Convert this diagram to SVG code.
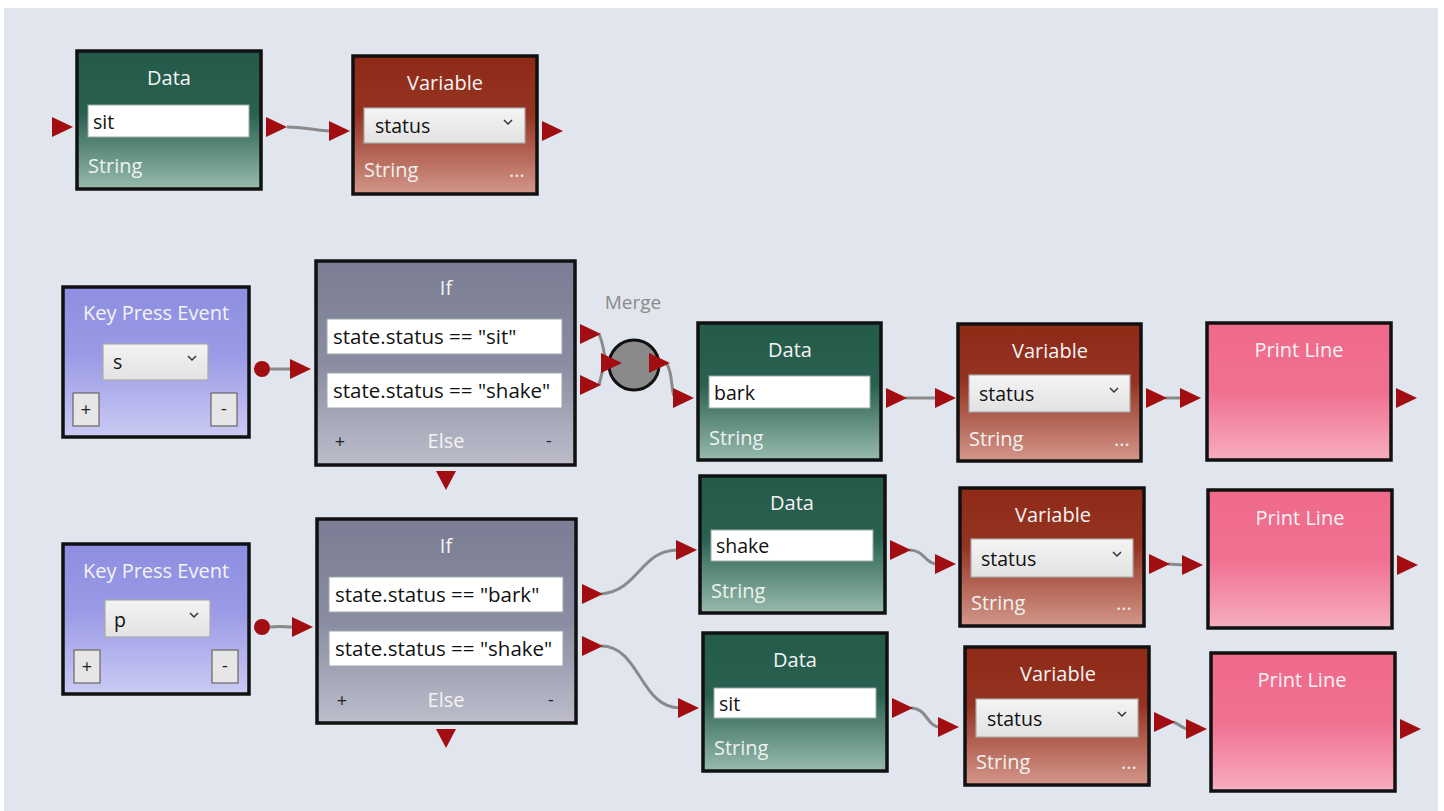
<svg xmlns="http://www.w3.org/2000/svg" width="1444" height="811" viewBox="0 0 1444 811">
<defs>
<linearGradient id="gData" x1="0" y1="0" x2="0" y2="1">
<stop offset="0" stop-color="#245a49"/><stop offset="0.45" stop-color="#2a6050"/><stop offset="1" stop-color="#97bbad"/>
</linearGradient>
<linearGradient id="gVar" x1="0" y1="0" x2="0" y2="1">
<stop offset="0" stop-color="#8e2a16"/><stop offset="0.42" stop-color="#953322"/><stop offset="1" stop-color="#d3978a"/>
</linearGradient>
<linearGradient id="gKey" x1="0" y1="0" x2="0" y2="1">
<stop offset="0" stop-color="#8e8ee2"/><stop offset="0.45" stop-color="#9a9ae6"/><stop offset="1" stop-color="#cbcbf4"/>
</linearGradient>
<linearGradient id="gIf" x1="0" y1="0" x2="0" y2="1">
<stop offset="0" stop-color="#7b7d94"/><stop offset="0.5" stop-color="#8a8ca1"/><stop offset="1" stop-color="#bdbdcb"/>
</linearGradient>
<linearGradient id="gPrint" x1="0" y1="0" x2="0" y2="1">
<stop offset="0" stop-color="#f06a8a"/><stop offset="0.5" stop-color="#f07090"/><stop offset="1" stop-color="#f7adbf"/>
</linearGradient>
<linearGradient id="gDrop" x1="0" y1="0" x2="0" y2="1">
<stop offset="0" stop-color="#f4f4f4"/><stop offset="1" stop-color="#e2e2e2"/>
</linearGradient>
<path id="arr" d="M0,-10 L21,0 L0,10 Z" fill="#a10d10"/>
<path id="arrD" d="M-10,0 L10,0 L0,19 Z" fill="#a10d10"/>
<path id="chev" d="M-4,-2 L0,2 L4,-2" fill="none" stroke="#333" stroke-width="1.5"/>
</defs>
<style>
.box{stroke:#111;stroke-width:3.5}
.t{font-family:"Open Sans","Noto Sans",sans-serif;font-size:20px;fill:#f4f4f4;text-anchor:middle}
.s{font-family:"Open Sans","Noto Sans",sans-serif;font-size:20px;fill:#eef2f0}
.f{font-family:"Open Sans","Noto Sans",sans-serif;font-size:19.5px;fill:#111}
.cond{font-family:"Open Sans","Noto Sans",sans-serif;font-size:20.5px;fill:#111}
.field{fill:#ffffff;stroke:#9aa;stroke-width:1}
.drop{fill:url(#gDrop);stroke:#aaa;stroke-width:1.2}
.btn{fill:#e6e6e6;stroke:#666;stroke-width:1.2}
.c{fill:none;stroke:#8a8a8a;stroke-width:3}
.m{font-family:"Open Sans","Noto Sans",sans-serif;font-size:19px;fill:#8a8a8a;text-anchor:middle}
.pm{font-family:"Open Sans","Noto Sans",sans-serif;font-size:18px;fill:#222;text-anchor:middle}
</style>
<rect x="0" y="0" width="1444" height="811" fill="#ffffff"/>
<rect x="4" y="8" width="1434" height="803" fill="#e1e5ee"/>

<g id="merge">
<text class="m" x="633" y="309">Merge</text>
<circle cx="634" cy="365" r="25" fill="#8a8a8a" stroke="#111" stroke-width="3"/>
</g>

<g id="connectors">
<path class="c" d="M287,127 C305,127 310,130 330,131"/>
<circle cx="262" cy="369" r="8" fill="#a10d10"/>
<path class="c" d="M270,369 L292,369"/>
<circle cx="262" cy="627" r="8" fill="#a10d10"/>
<path class="c" d="M270,627 C282,626 285,627 294,627"/>
<path class="c" d="M599,334 C604,345 604,355 606,363"/>
<path class="c" d="M599,385 C602,375 602,368 606,363"/>
<path class="c" d="M666,363 C674,372 670,395 676,398"/>
<path class="c" d="M905,398 L936,398"/>
<path class="c" d="M1165,398 L1182,398"/>
<path class="c" d="M601,594 C640,590 640,550 678,550"/>
<path class="c" d="M601,646 C640,646 640,708 680,708"/>
<path class="c" d="M909,550 C925,550 925,564 937,564"/>
<path class="c" d="M1168,564 L1184,565"/>
<path class="c" d="M911,708 C927,708 927,727 940,727"/>
<path class="c" d="M1173,722 C1180,724 1182,729 1188,729"/>
<use href="#arr" x="52" y="127"/>
<use href="#arr" x="266" y="127"/>
<use href="#arr" x="329" y="131"/>
<use href="#arr" x="542" y="131"/>
<use href="#arr" x="290" y="369"/>
<use href="#arr" x="292" y="627"/>
<use href="#arr" x="580" y="334"/>
<use href="#arr" x="580" y="385"/>
<use href="#arr" x="601" y="363"/>
<use href="#arr" x="649" y="363"/>
<use href="#arr" x="673" y="398"/>
<use href="#arr" x="886" y="398"/>
<use href="#arr" x="935" y="398"/>
<use href="#arr" x="1146" y="398"/>
<use href="#arr" x="1180" y="398"/>
<use href="#arr" x="1396" y="398"/>
<use href="#arrD" x="446" y="471"/>
<use href="#arrD" x="446" y="729"/>
<use href="#arr" x="582" y="594"/>
<use href="#arr" x="582" y="646"/>
<use href="#arr" x="676" y="550"/>
<use href="#arr" x="678" y="708"/>
<use href="#arr" x="890" y="550"/>
<use href="#arr" x="935" y="564"/>
<use href="#arr" x="1149" y="564"/>
<use href="#arr" x="1182" y="565"/>
<use href="#arr" x="1397" y="565"/>
<use href="#arr" x="892" y="708"/>
<use href="#arr" x="938" y="727"/>
<use href="#arr" x="1154" y="722"/>
<use href="#arr" x="1186" y="729"/>
<use href="#arr" x="1400" y="729"/>
</g>

<g id="data-sit-top">
<rect class="box" x="77" y="51" width="184" height="138" fill="url(#gData)"/>
<text class="t" x="169" y="85">Data</text>
<rect class="field" x="88" y="105" width="161" height="32"/>
<text class="f" x="93" y="129">sit</text>
<text class="s" x="88" y="173">String</text>
</g>

<g id="variable-top">
<rect class="box" x="353" y="56" width="184" height="138" fill="url(#gVar)"/>
<text class="t" x="445" y="90">Variable</text>
<rect class="drop" x="364" y="108" width="161" height="35"/>
<text class="f" x="375" y="133">status</text>
<use href="#chev" x="508" y="122"/>
<text class="s" x="364" y="177">String</text>
<text class="s" x="509" y="177" font-size="16">...</text>
</g>

<g id="keypress-s">
<rect class="box" x="63" y="287" width="186" height="150" fill="url(#gKey)"/>
<text class="t" x="156" y="320">Key Press Event</text>
<rect class="drop" x="103" y="344" width="105" height="36"/>
<text class="f" x="113" y="369">s</text>
<use href="#chev" x="192" y="358"/>
<rect class="btn" x="73" y="393" width="26" height="33"/>
<text class="pm" x="86" y="416">+</text>
<rect class="btn" x="211" y="393" width="26" height="33"/>
<text class="pm" x="224" y="415">-</text>
</g>

<g id="if-1">
<rect class="box" x="316" y="261" width="259" height="204" fill="url(#gIf)"/>
<text class="t" x="446" y="295">If</text>
<rect class="field" x="327" y="319" width="235" height="35"/>
<text class="cond" x="333" y="344">state.status == "sit"</text>
<rect class="field" x="327" y="373" width="235" height="35"/>
<text class="cond" x="333" y="398">state.status == "shake"</text>
<text class="pm" x="340" y="448">+</text>
<text class="t" x="446" y="448">Else</text>
<text class="pm" x="549" y="447">-</text>
</g>

<g id="data-bark">
<rect class="box" x="698" y="323" width="183" height="137" fill="url(#gData)"/>
<text class="t" x="790" y="357">Data</text>
<rect class="field" x="709" y="376" width="161" height="32"/>
<text class="f" x="714" y="400">bark</text>
<text class="s" x="709" y="445">String</text>
</g>

<g id="variable-2">
<rect class="box" x="958" y="324" width="183" height="137" fill="url(#gVar)"/>
<text class="t" x="1050" y="358">Variable</text>
<rect class="drop" x="969" y="375" width="161" height="37"/>
<text class="f" x="979" y="401">status</text>
<use href="#chev" x="1114" y="390"/>
<text class="s" x="969" y="446">String</text>
<text class="s" x="1114" y="446" font-size="16">...</text>
</g>

<g id="print-1">
<rect class="box" x="1207" y="323" width="184" height="137" fill="url(#gPrint)"/>
<text class="t" x="1299" y="357">Print Line</text>
</g>

<g id="keypress-p">
<rect class="box" x="63" y="544" width="186" height="150" fill="url(#gKey)"/>
<text class="t" x="156" y="578">Key Press Event</text>
<rect class="drop" x="105" y="600" width="105" height="37"/>
<text class="f" x="114" y="627">p</text>
<use href="#chev" x="194" y="615"/>
<rect class="btn" x="74" y="650" width="26" height="33"/>
<text class="pm" x="87" y="673">+</text>
<rect class="btn" x="212" y="650" width="26" height="33"/>
<text class="pm" x="225" y="672">-</text>
</g>

<g id="if-2">
<rect class="box" x="317" y="519" width="259" height="204" fill="url(#gIf)"/>
<text class="t" x="446" y="553">If</text>
<rect class="field" x="329" y="577" width="234" height="35"/>
<text class="cond" x="335" y="602">state.status == "bark"</text>
<rect class="field" x="329" y="631" width="234" height="35"/>
<text class="cond" x="335" y="656">state.status == "shake"</text>
<text class="pm" x="342" y="707">+</text>
<text class="t" x="446" y="707">Else</text>
<text class="pm" x="551" y="706">-</text>
</g>

<g id="data-shake">
<rect class="box" x="700" y="476" width="185" height="137" fill="url(#gData)"/>
<text class="t" x="792" y="510">Data</text>
<rect class="field" x="711" y="530" width="162" height="31"/>
<text class="f" x="716" y="553">shake</text>
<text class="s" x="711" y="598">String</text>
</g>

<g id="variable-3">
<rect class="box" x="960" y="488" width="184" height="138" fill="url(#gVar)"/>
<text class="t" x="1053" y="522">Variable</text>
<rect class="drop" x="971" y="539" width="162" height="38"/>
<text class="f" x="981" y="566">status</text>
<use href="#chev" x="1117" y="554"/>
<text class="s" x="971" y="610">String</text>
<text class="s" x="1116" y="610" font-size="16">...</text>
</g>

<g id="print-2">
<rect class="box" x="1208" y="490" width="184" height="138" fill="url(#gPrint)"/>
<text class="t" x="1300" y="525">Print Line</text>
</g>

<g id="data-sit">
<rect class="box" x="703" y="633" width="184" height="138" fill="url(#gData)"/>
<text class="t" x="795" y="667">Data</text>
<rect class="field" x="714" y="688" width="162" height="30"/>
<text class="f" x="719" y="711">sit</text>
<text class="s" x="714" y="755">String</text>
</g>

<g id="variable-4">
<rect class="box" x="965" y="647" width="184" height="138" fill="url(#gVar)"/>
<text class="t" x="1058" y="681">Variable</text>
<rect class="drop" x="976" y="699" width="162" height="38"/>
<text class="f" x="987" y="726">status</text>
<use href="#chev" x="1122" y="714"/>
<text class="s" x="976" y="769">String</text>
<text class="s" x="1121" y="769" font-size="16">...</text>
</g>

<g id="print-3">
<rect class="box" x="1211" y="653" width="184" height="138" fill="url(#gPrint)"/>
<text class="t" x="1302" y="687">Print Line</text>
</g>
</svg>
